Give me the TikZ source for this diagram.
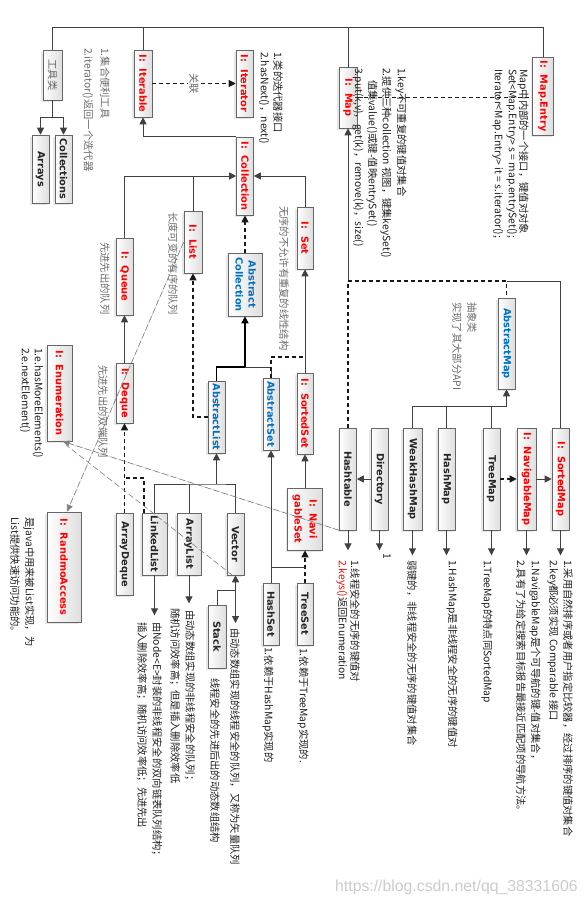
\documentclass[tikz,border=0pt]{standalone}
\usepackage{fontspec}
\usepackage{graphicx}
\usetikzlibrary{arrows.meta,shadows}
\newfontfamily\cjk{Noto Sans CJK SC}
\newfontfamily\boxfont{DejaVu Sans}
\newfontfamily\wmfont{Liberation Sans}
\definecolor{ired}{RGB}{255,0,0}
\definecolor{ablue}{RGB}{0,112,192}
\definecolor{lnc}{RGB}{64,64,64}
\newcommand\myrot[1]{\rotatebox{-90}{#1}}
\tikzset{
  box/.style={draw=black!60, line width=0.6pt, left color=white, right color=black!13,
    inner sep=0pt, drop shadow={shadow xshift=-2pt,shadow yshift=-2pt,fill=black!18},
    font=\boxfont\bfseries\fontsize{9.8}{14}\selectfont, text=black!85},
  ibox/.style={box, text=ired},
  abox/.style={box, text=ablue},
  sz/.style 2 args={minimum width=#1pt, minimum height=#2pt},
  ln/.style={draw=lnc, line width=1pt},
  tip/.style={-{Triangle[length=7pt,width=7pt]}},
  arr/.style={ln, tip},
  dsh/.style={draw=black!90, line width=1.1pt, dash pattern=on 4pt off 3pt},
  dsharr/.style={dsh, tip},
  gdsh/.style={draw=black!50, line width=0.6pt, dash pattern=on 6pt off 3pt},
  desc/.style={rotate=-90, anchor=west, inner sep=0pt, font=\cjk\fontsize{10.3}{12}\selectfont, text=black!88},
  gdesc/.style={desc, text=black!58},
}
\begin{document}
\begin{tikzpicture}[x=1pt,y=-1pt]
\fill[white] (0,0) rectangle (588,906);
\useasboundingbox (0,0) rectangle (588,906);

% ---------- boxes ----------
\node[box, sz={19}{50}, font=\cjk\fontsize{10.3}{12}\selectfont, text=black!60] (tool) at (52.5,75) {\myrot{工具类}};
\node[box, sz={17}{68}] (arrays) at (40.5,169) {\myrot{Arrays}};
\node[box, sz={17}{68}] (colls) at (63.5,169) {\myrot{Collections}};
\node[ibox, sz={18}{67}] (iterable) at (143,83.5) {\myrot{I:\ \ Iterable}};
\node[ibox, sz={17}{67}] (iterator) at (244.5,83.5) {\myrot{I:\ \ Iterator}};
\node[ibox, sz={18}{61}] (map) at (348,97.5) {\myrot{I:\ \ Map}};
\node[ibox, sz={21}{78}] (mapentry) at (543,96) {\myrot{I:\ \ Map.Entry}};
\node[ibox, sz={17}{78}] (collection) at (245,176) {\myrot{I:\ \ Collection}};
\node[ibox, sz={18}{62}] (list) at (193,242) {\myrot{I:\ \ List}};
\node[ibox, sz={17}{77}] (queue) at (124.5,276.5) {\myrot{I:\ \ Queue}};
\node[ibox, sz={16}{62}] (set) at (305,238) {\myrot{I:\ \ Set}};
\node[abox, sz={34}{63}] (abscoll) at (245,284.5) {\myrot{\begin{tabular}{@{}c@{}}Abstract\\[-1pt]Collection\end{tabular}}};
\node[abox, sz={17}{72}] (abslist) at (216.5,417) {\myrot{AbstractList}};
\node[abox, sz={16}{72}] (absset) at (271,414) {\myrot{AbstractSet}};
\node[ibox, sz={16}{81}] (sortedset) at (305,413.5) {\myrot{I:\ \ SortedSet}};
\node[ibox, sz={17}{60}] (deque) at (124.5,393) {\myrot{I:\ \ Deque}};
\node[box, sz={17}{82}] (arraydeque) at (124.5,554) {\myrot{ArrayDeque}};
\node[ibox, sz={25}{96}] (enumeration) at (59.5,393) {\myrot{I:\ \ Enumeration}};
\node[ibox, sz={34}{110}] (randmo) at (64,567) {\myrot{I:\ \ RandmoAccess}};
\node[box, sz={25}{62}] (linkedlist) at (154.5,544) {\myrot{LinkedList}};
\node[box, sz={24}{62}] (arraylist) at (189,544) {\myrot{ArrayList}};
\node[box, sz={17}{62}] (vector) at (235.5,544) {\myrot{Vector}};
\node[box, sz={18}{63}] (stack) at (217,636.5) {\myrot{Stack}};
\node[box, sz={16}{62}] (hashset) at (271,614) {\myrot{HashSet}};
\node[box, sz={16}{62}] (treeset) at (305,614) {\myrot{TreeSet}};
\node[ibox, sz={35}{62}] (navset) at (305,519) {\myrot{\begin{tabular}{@{}c@{}}I:\ \ Navi\\[1pt]gableSet\end{tabular}}};
\node[box, sz={17}{102}] (hashtable) at (348,479) {\myrot{Hashtable}};
\node[box, sz={17}{102}] (directory) at (379.5,479) {\myrot{Directory}};
\node[box, sz={19}{102}] (weakhashmap) at (412.5,479) {\myrot{WeakHashMap}};
\node[box, sz={17}{102}] (hashmap) at (446.5,479) {\myrot{HashMap}};
\node[box, sz={17}{102}] (treemap) at (491.5,479) {\myrot{TreeMap}};
\node[ibox, sz={19}{102}] (navmap) at (526.5,479) {\myrot{I:\ \ NavigableMap}};
\node[ibox, sz={17}{102}] (sortedmap) at (560.5,479) {\myrot{I:\ \ SortedMap}};
\node[abox, sz={17}{91}] (abstractmap) at (506.5,343.5) {\myrot{AbstractMap}};

% ---------- connectors ----------
\coordinate (topL) at (52.5,27);
\draw[ln] (tool.north) -- (topL) -| (mapentry.north);
\draw[ln] (iterable.north) -- (iterable.north |- topL);
\draw[ln] (map.north) -- (map.north |- topL);

\coordinate (jt) at (52.5,117);
\draw[arr] (tool.south) -- (jt) -| (arrays.north);
\draw[arr] (jt) -| (colls.north);

\draw[dsharr] (iterable.east) -- node[midway, rotate=-90, fill=white, inner sep=1pt, font=\cjk\fontsize{10.3}{12}\selectfont, text=black!58] (tassoc) {关联} (iterator.west);

\draw[arr] (collection.north west) -| (iterable.south);
\draw[arr] (queue.north) |- (collection.west);
\draw[ln] (list.north) -- (list.north |- collection.west);
\draw[arr] (set.north) |- (collection.east);
\draw[dsharr] (abscoll.north) -- (collection.south);

\coordinate (jac) at (245,367);
\draw[ln, draw=black, line width=1.5pt, tip] (abslist.north) |- (jac) -- (abscoll.south);
\draw[ln] (jac) -| (absset.north);
\coordinate (jas) at (305,357);
\draw[dsh] (absset.north) |- (jas);
\draw[arr] (sortedset.north) -- (set.south);
\draw[arr] (navset.north) -- (sortedset.south);
\draw[dsharr, line width=1.3pt] (treeset.north) -- (navset.south);
\draw[arr] (hashset.north) -- (absset.south);
\coordinate (jts) at (305,567);
\draw[ln] (jts) -- (jts -| hashset.north);

\draw[dsharr] (abslist.west) -| (list.south);
\draw[arr] (deque.north) -- (queue.south);
\draw[dsharr, line width=1.4pt] (arraydeque.north) -- (deque.south);
\coordinate (jld) at (144,478);
\draw[dsh] (jld |- linkedlist.north) -- (jld) -- (jld -| deque.south);

\coordinate (jal) at (216.5,484);
\draw[arr] (jal) -- (abslist.south);
\draw[ln] (linkedlist.north) |- (jal) -| (vector.north);
\draw[ln] (arraylist.north) -- (arraylist.north |- jal);
\coordinate (jst) at (235.5,590);
\draw[ln] (stack.north) |- (jst);
\draw[arr] (jst) -- (vector.south);
\draw[arr] (jst) -- ++(0,33);
\draw[arr] (linkedlist.south) -- ++(0,40);
\draw[arr] (arraylist.south) -- ++(0,28);

\coordinate (jm) at (348,281);
\coordinate (jm2) at (506.5,281);
\draw[arr] (jm) -- (map.south);
\draw[dsh] (hashtable.north) -- (jm) -- (jm2) -- (abstractmap.north);
\draw[ln] (jm2) -| (sortedmap.north);
\coordinate (jam) at (506.5,406);
\draw[arr] (jam) -- (abstractmap.south);
\draw[ln] (weakhashmap.north) |- (jam);
\draw[ln] (hashmap.north) -- (hashmap.north |- jam);
\draw[ln] (treemap.north) -- (treemap.north |- jam);
\draw[dsharr] (treemap.east) -- (navmap.west);
\draw[arr] (navmap.east) -- (sortedmap.west);
\draw[arr] (directory.west) -- (hashtable.east);
\draw[dsh] (map.east) -- (map.east -| mapentry.west);

\foreach \b in {sortedmap,navmap,treemap,hashmap,weakhashmap} {\draw[arr] (\b.south) -- ++(0,25);}
\foreach \b in {directory,hashtable} {\draw[arr] (\b.south) -- ++(0,20);}

\draw[gdsh, -{Triangle[length=7pt,width=6pt]}, fill=black!70] (hashtable.south west) -- ([xshift=3pt]enumeration.south);
\draw[gdsh] ([xshift=-3pt]vector.south) -- ([xshift=7pt,yshift=-4pt]enumeration.south);
\draw[gdsh, -{Triangle[length=7pt,width=6pt]}, fill=black!70] (list.west) -- ([xshift=3pt]randmo.north);

% ---------- texts ----------
\node[gdesc] (ttool1) at (105,48) {1.集合便利工具};
\node[gdesc] (ttool2) at (88,48) {2.iterator()返回一个迭代器};
\node[desc] (titer1) at (278,52) {1.类的迭代器接口};
\node[desc] (titer2) at (264,52) {2.hasNext()，next()};
\node[desc] (tmap1) at (401,68) {1.key不可重复的键值对集合};
\node[desc] (tmap2) at (386,68) {2.提供三种collection 视图，键集keySet()};
\node[desc] (tmap3) at (372,80) {值集value()或键-值映entrySet()};
\node[desc] (tmap4) at (358,68) {3.put(k,v)，get(k)，remove(k)，size()};
\node[desc] (tme1) at (523,69) {Map中内部的一个接口，键值对对象};
\node[desc] (tme2) at (512,69) {Set<Map.Entry> s = map.entrySet();};
\node[desc] (tme3) at (498,69) {Iterator<Map.Entry> it = s.iterator();};
\node[gdesc] (tset) at (284,206) {无序的不允许有重复的线性结构};
\node[gdesc] (tlist) at (173,212) {长度可变的有序的队列};
\node[gdesc] (tqueue) at (105,242) {先进先出的队列};
\node[gdesc] (tdeque) at (103,365) {先进先出的双端队列};
\node[desc] (tenum1) at (38,348) {1.e.hasMoreElements()};
\node[desc] (tenum2) at (25,348) {2.e.nextElement()};
\node[desc] (trand1) at (29,517) {是java中用来被List实现，为};
\node[desc] (trand2) at (15,517) {List提供快速访问功能的。};
\node[gdesc] (tam1) at (472,302) {抽象类};
\node[gdesc] (tam2) at (457,302) {实现了其大部分API};
\node[desc] (tsm1) at (568,560) {1.采用自然排序或者用户指定比较器，经过排序的键值对集合};
\node[desc] (tsm2) at (553,560) {2.key都必须实现 Comparable 接口};
\node[desc] (tnm1) at (535,560) {1.NavigableMap是个可导航的键-值对集合，};
\node[desc] (tnm2) at (521,560) {2.具有了为给定搜索目标报告最接近匹配项的导航方法。};
\node[desc] (ttm) at (487,560) {1.TreeMap的特点同SortedMap};
\node[desc] (thm) at (452,560) {1.HashMap是非线程安全的无序的键值对};
\node[desc] (twhm) at (412,560) {弱键的，非线程安全的无序的键值对集合};
\node[desc] (tdir) at (387,553) {1};
\node[desc] (tht1) at (355,560) {1.线程安全的无序的键值对};
\node[desc] (tht2) at (342,560) {{\color{ired}2.keys()}返回Enumeration};
\node[desc] (tts) at (303,648) {1.依赖于TreeMap实现的.};
\node[desc] (ths) at (268,647) {1.依赖于HashMap实现的};
\node[desc] (tvec) at (235,628) {由动态数组实现的线程安全的队列，又称为矢量队列};
\node[desc] (tstack) at (215,678) {线程安全的先进后出的动态数组结构};
\node[desc] (tal1) at (190,610) {由动态数组实现的非线程安全的队列；};
\node[desc] (tal2) at (175,608) {随机访问效率高；但是插入删除效率低};
\node[desc] (tll1) at (157,622) {由Node<E>封装的非线程安全的双向链表队列结构；};
\node[desc] (tll2) at (142,622) {插入删除效率高；随机访问效率低；先进先出};
\node[anchor=west, inner sep=0pt, font=\wmfont\fontsize{15.8}{18}\selectfont, text=black!20] (wm) at (335,887) {https://blog.csdn.net/qq\_38331606};
\end{tikzpicture}
\end{document}
